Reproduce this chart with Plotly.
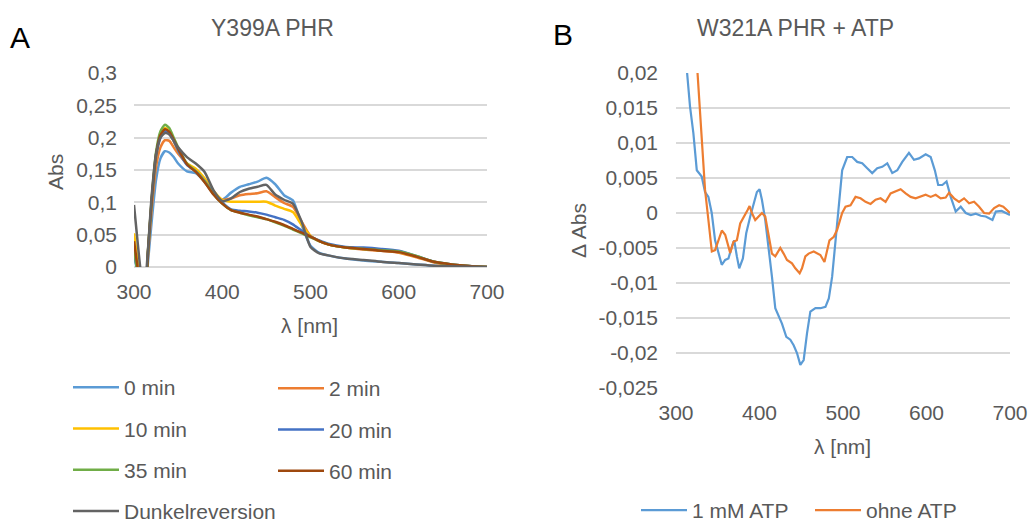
import plotly.graph_objects as go

# ---------------- Panel A data: Y399A PHR ----------------
a_nm = [300, 304, 308, 312, 316, 320, 325, 330, 335, 340, 345, 350, 360, 370, 380, 390,
        400, 410, 420, 430, 440, 450, 460, 470, 480, 490, 500, 510, 520, 540, 560, 580,
        600, 620, 640, 660, 680, 700]

a_0min = [0.020, -0.010, -0.040, -0.040, 0.010, 0.070, 0.135, 0.168, 0.179, 0.177, 0.170, 0.160,
          0.148, 0.145, 0.132, 0.114, 0.104, 0.115, 0.124, 0.128, 0.132, 0.138, 0.128, 0.111,
          0.103, 0.065, 0.033, 0.022, 0.018, 0.013, 0.010, 0.008, 0.006, 0.004, 0.002, 0.001,
          0.0005, 0.0]
a_2min = [0.045, 0.000, -0.040, -0.040, 0.020, 0.090, 0.155, 0.185, 0.196, 0.195, 0.185, 0.175,
          0.160, 0.150, 0.135, 0.115, 0.104, 0.106, 0.111, 0.113, 0.114, 0.117, 0.108, 0.099,
          0.093, 0.070, 0.048, 0.040, 0.035, 0.030, 0.027, 0.025, 0.022, 0.015, 0.007, 0.003,
          0.001, 0.0]
a_10min = [0.052, 0.010, -0.040, -0.040, 0.025, 0.100, 0.170, 0.205, 0.215, 0.210, 0.195, 0.180,
           0.160, 0.152, 0.137, 0.118, 0.104, 0.101, 0.101, 0.101, 0.101, 0.101, 0.095, 0.090,
           0.085, 0.065, 0.048, 0.040, 0.035, 0.030, 0.028, 0.026, 0.023, 0.016, 0.008, 0.003,
           0.001, 0.0]
a_20min = [0.030, -0.010, -0.040, -0.040, 0.025, 0.100, 0.170, 0.200, 0.210, 0.207, 0.195, 0.180,
           0.158, 0.148, 0.133, 0.115, 0.100, 0.089, 0.087, 0.086, 0.084, 0.081, 0.077, 0.073,
           0.066, 0.056, 0.047, 0.041, 0.036, 0.031, 0.030, 0.028, 0.025, 0.017, 0.008, 0.004,
           0.0015, 0.0]
a_35min = [0.030, -0.010, -0.040, -0.040, 0.028, 0.105, 0.178, 0.210, 0.220, 0.215, 0.200, 0.185,
           0.160, 0.148, 0.132, 0.113, 0.098, 0.088, 0.084, 0.080, 0.077, 0.074, 0.069, 0.064,
           0.058, 0.052, 0.046, 0.040, 0.035, 0.030, 0.028, 0.026, 0.024, 0.017, 0.008, 0.004,
           0.0015, 0.0]
a_60min = [0.040, 0.000, -0.040, -0.040, 0.027, 0.103, 0.174, 0.204, 0.213, 0.209, 0.197, 0.183,
           0.159, 0.147, 0.131, 0.112, 0.098, 0.088, 0.084, 0.081, 0.078, 0.074, 0.070, 0.065,
           0.059, 0.053, 0.047, 0.040, 0.035, 0.030, 0.028, 0.025, 0.023, 0.016, 0.008, 0.004,
           0.0015, 0.0]
a_dunkel = [0.096, 0.040, -0.010, -0.030, 0.030, 0.110, 0.175, 0.200, 0.207, 0.205, 0.195, 0.185,
            0.170, 0.160, 0.147, 0.119, 0.102, 0.106, 0.116, 0.121, 0.124, 0.127, 0.112, 0.104,
            0.098, 0.070, 0.031, 0.021, 0.018, 0.013, 0.011, 0.008, 0.006, 0.004, 0.002, 0.001,
            0.0005, 0.0]

a_series = [
    ("0 min", a_0min, "#5B9BD5", "legend"),
    ("2 min", a_2min, "#ED7D31", "legend2"),
    ("10 min", a_10min, "#FFC000", "legend"),
    ("20 min", a_20min, "#4472C4", "legend2"),
    ("35 min", a_35min, "#70AD47", "legend"),
    ("60 min", a_60min, "#9E480E", "legend2"),
    ("Dunkelreversion", a_dunkel, "#636363", "legend"),
]

# ---------------- Panel B data: W321A PHR + ATP ----------------
b_atp_nm = [306, 312.8, 316.8, 320.8, 324.9, 330.8, 334.8, 338.8, 342.8, 346.8, 350.8, 354.8,
            358.9, 362.8, 366.9, 369.7, 372.9, 375.7, 380.1, 384.1, 388.9, 392.9, 396.9, 400.1,
            402.9, 406.9, 410.9, 414.9, 418.9, 422.9, 426.9, 432.1, 436.9, 440.9, 444.9, 448.9,
            452.9, 456.9, 460.9, 467, 473, 479, 483, 487, 491, 495, 499, 505, 511, 517, 523,
            529, 535, 541, 547, 553, 559, 565, 571, 579, 585, 591, 599, 605, 610, 614, 619,
            624, 629, 635, 641, 647, 653, 659, 665, 671, 679, 683, 690, 700]
b_atp_dabs = [0.030, 0.0200, 0.0152, 0.0114, 0.0061, 0.0052, 0.0030, 0.0023, 0.0000, -0.0039,
              -0.0055, -0.0074, -0.0067, -0.0065, -0.0048, -0.0039, -0.0062, -0.0079, -0.0065,
              -0.0029, -0.0005, 0.0014, 0.0030, 0.0034, 0.0019, -0.0010, -0.0048, -0.0091,
              -0.0136, -0.0148, -0.0158, -0.0177, -0.0181, -0.0189, -0.0200, -0.0217, -0.0210,
              -0.0172, -0.0141, -0.0136, -0.0136, -0.0134, -0.0122, -0.0091, -0.0039, 0.0019,
              0.0061, 0.0080, 0.0080, 0.0073, 0.0071, 0.0064, 0.0057, 0.0064, 0.0066, 0.0071,
              0.0057, 0.0061, 0.0073, 0.0086, 0.0076, 0.0078, 0.0084, 0.0080, 0.0061, 0.0040,
              0.0040, 0.0045, 0.0023, 0.0002, 0.0009, 0.0000, -0.0003, -0.0001, -0.0004,
              -0.0005, -0.0010, 0.0002, 0.0003, -0.0003]

b_ohne_nm = [322, 325.6, 328.8, 332, 334.8, 338.8, 342.9, 346.8, 350.8, 354.9, 358.9, 362.8,
             364.9, 368.8, 372.9, 376.9, 382.9, 385.6, 388.1, 390.9, 394.9, 398.8, 402.9, 406.9,
             410.9, 414.9, 418.9, 424.9, 428.9, 432.9, 438.9, 442.9, 448.1, 450.9, 454.9, 458.8,
             464.9, 468.9, 472.9, 477.8, 481, 483.8, 489, 493, 499, 503, 509, 515, 521, 527,
             533, 539, 545, 551, 557, 563, 569, 575, 581, 587, 593, 599, 605, 611, 617, 623,
             627, 633, 639, 645, 651, 657, 663, 669, 675, 681, 687, 692, 700]
b_ohne_dabs = [0.027, 0.0200, 0.0142, 0.0085, 0.0033, -0.0010, -0.0055, -0.0053, -0.0039,
               -0.0025, -0.0031, -0.0050, -0.0057, -0.0041, -0.0039, -0.0015, -0.0003, 0.0004,
               0.0010, 0.0000, -0.0010, -0.0005, 0.0000, -0.0005, -0.0029, -0.0058, -0.0062,
               -0.0050, -0.0058, -0.0067, -0.0072, -0.0079, -0.0086, -0.0079, -0.0062, -0.0058,
               -0.0055, -0.0057, -0.0060, -0.0070, -0.0053, -0.0039, -0.0034, -0.0024, 0.0000,
               0.0009, 0.0011, 0.0023, 0.0021, 0.0016, 0.0013, 0.0019, 0.0021, 0.0016, 0.0028,
               0.0031, 0.0034, 0.0028, 0.0023, 0.0021, 0.0023, 0.0026, 0.0023, 0.0026, 0.0021,
               0.0022, 0.0029, 0.0021, 0.0016, 0.0021, 0.0014, 0.0016, 0.0009, 0.0000, -0.0001,
               0.0007, 0.0011, 0.0009, 0.0000]

b_ytick_vals = [0.02, 0.015, 0.01, 0.005, 0, -0.005, -0.01, -0.015, -0.02, -0.025]
b_ytick_text = ["0,02", "0,015", "0,01", "0,005", "0", "-0,005", "-0,01", "-0,015", "-0,02", "-0,025"]

FONT = "Liberation Sans, Arial, Helvetica, sans-serif"
TXT = "#595959"
GRID = "#D9D9D9"
W, H = 1028, 523
FS = 21

fig = go.Figure()

for name, vals, color, lg in a_series:
    fig.add_trace(go.Scatter(
        x=a_nm, y=vals, name=name, mode="lines",
        line=dict(color=color, width=2.5, shape="spline", smoothing=0.6),
        xaxis="x", yaxis="y", legend=lg, legendgroup=name))

fig.add_trace(go.Scatter(x=b_atp_nm, y=b_atp_dabs, name="1 mM ATP", mode="lines",
                         line=dict(color="#5B9BD5", width=2.2), xaxis="x2", yaxis="y2",
                         legend="legend3"))
fig.add_trace(go.Scatter(x=b_ohne_nm, y=b_ohne_dabs, name="ohne ATP", mode="lines",
                         line=dict(color="#ED7D31", width=2.2), xaxis="x2", yaxis="y2",
                         legend="legend3"))

def px(x):
    return x / W

def py(y):
    return 1 - y / H

tickfont = dict(family=FONT, size=FS, color=TXT)
legfont = dict(family=FONT, size=FS, color=TXT)

fig.update_layout(
    width=W, height=H,
    margin=dict(l=0, r=0, t=0, b=0, autoexpand=False),
    paper_bgcolor="white", plot_bgcolor="white",
    separators=", ",
    font=dict(family=FONT, size=FS, color=TXT),
    xaxis=dict(domain=[px(134), px(487)], range=[300, 700], dtick=100, showgrid=False,
               zeroline=False, showline=False, ticks="", tickfont=tickfont, anchor="y",
               ticklabelstandoff=10, fixedrange=True),
    yaxis=dict(domain=[py(267), py(73)], range=[0, 0.3], dtick=0.05, showgrid=True,
               gridcolor=GRID, gridwidth=1.5, zeroline=True, zerolinecolor=GRID, zerolinewidth=1.5,
               showline=False, ticks="", tickfont=tickfont, anchor="x", ticklabelstandoff=16,
               fixedrange=True),
    xaxis2=dict(domain=[px(676), px(1010)], range=[300, 700], dtick=100, showgrid=False,
                zeroline=False, showline=False, ticks="", tickfont=tickfont, anchor="y2",
                ticklabelstandoff=10, fixedrange=True),
    yaxis2=dict(domain=[py(388), py(73)], range=[-0.025, 0.02], tickvals=b_ytick_vals,
                ticktext=b_ytick_text, showgrid=True, gridcolor=GRID, gridwidth=1.5,
                zeroline=False, showline=False, ticks="", tickfont=tickfont, anchor="x2",
                ticklabelstandoff=17, fixedrange=True),
    legend=dict(x=px(68), y=py(367), xanchor="left", yanchor="top", orientation="v",
                traceorder="grouped", tracegroupgap=11, itemwidth=46,
                font=legfont, bgcolor="rgba(0,0,0,0)"),
    legend2=dict(x=px(273), y=py(368), xanchor="left", yanchor="top", orientation="v",
                 traceorder="grouped", tracegroupgap=11, itemwidth=46,
                 font=legfont, bgcolor="rgba(0,0,0,0)"),
    legend3=dict(x=px(636), y=py(490), xanchor="left", yanchor="top", orientation="h",
                 itemwidth=46, entrywidth=113, entrywidthmode="pixels", font=legfont,
                 bgcolor="rgba(0,0,0,0)"),
    showlegend=True,
)

annotations = [
    dict(text="Y399A PHR", x=px(272), y=py(28), font=dict(size=23, color=TXT)),
    dict(text="W321A PHR + ATP", x=px(795), y=py(28), font=dict(size=23, color=TXT)),
    dict(text="A", x=px(20), y=py(37), font=dict(size=30, color="black")),
    dict(text="B", x=px(563), y=py(35), font=dict(size=30, color="black")),
    dict(text="Abs", x=px(56), y=py(172), textangle=-90, font=dict(size=FS, color=TXT)),
    dict(text="λ [nm]", x=px(309), y=py(325), font=dict(size=FS, color=TXT)),
    dict(text="Δ Abs", x=px(578), y=py(231), textangle=-90, font=dict(size=FS, color=TXT)),
    dict(text="λ [nm]", x=px(842), y=py(446), font=dict(size=FS, color=TXT)),
]
for a in annotations:
    a.update(xref="paper", yref="paper", showarrow=False, xanchor="center", yanchor="middle")
    a["font"]["family"] = FONT
fig.update_layout(annotations=annotations)

fig.write_html("out.html", config={"displayModeBar": False},
               post_script="document.body.style.margin='0';document.body.style.overflow='hidden';")
